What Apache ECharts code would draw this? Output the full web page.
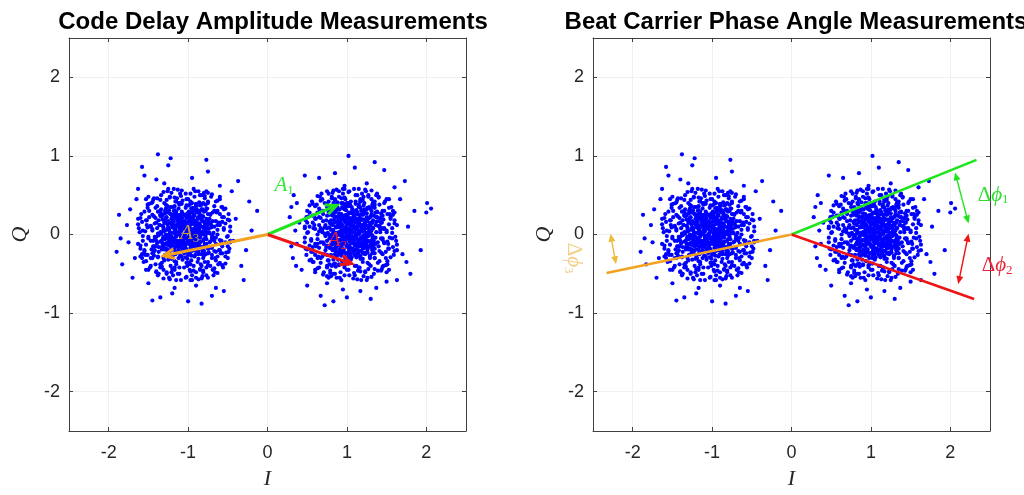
<!DOCTYPE html>
<html>
<head>
<meta charset="utf-8">
<script src="https://cdn.jsdelivr.net/npm/echarts@6/dist/echarts.min.js"></script>
<style>
  html, body { margin: 0; padding: 0; background: #ffffff; }
  #chart { width: 1024px; height: 495px; }
</style>
</head>
<body>
<div id="chart"></div>
<script>
// ---- panel text ----
const panelTitles = ['Code Delay Amplitude Measurements', 'Beat Carrier Phase Angle Measurements'];
const axisMin = -2.5;
const axisMax = 2.5;

// ---- received samples (I, Q) : cluster around -1 ----
const leftCloudI = [
  -1.02,-1.17,-0.85,-1.12,-0.91,-1.27,-0.99,-1.21,-0.80,-1.05,
  -1.09,-0.94,-1.24,-0.88,-1.14,-0.82,-1.31,-0.97,-1.18,-1.03,
  -0.90,-1.29,-0.95,-1.08,-0.78,-1.16,-0.86,-1.23,-1.00,-1.11,
  -0.92,-1.26,-1.04,-0.83,-1.20,-0.96,-1.33,-0.89,-1.07,-1.15,
  -0.81,-1.10,-0.98,-1.25,-0.87,-1.19,-1.01,-1.30,-0.93,-1.13,
  -0.84,-1.06,-0.79,-1.22,-1.02,-1.28,-0.91,-1.17,-0.97,-1.34,
  -0.88,-1.05,-1.12,-0.85,-1.21,-0.99,-1.26,-0.94,-1.09,-0.80,
  -1.18,-1.03,-0.89,-1.31,-0.96,-1.14,-0.82,-1.24,-1.00,-1.07,
  -0.92,-1.29,-0.86,-1.16,-1.04,-1.11,-0.77,-1.23,-0.95,-1.19,
  -1.01,-1.32,-0.90,-1.13,-0.83,-1.08,-0.93,-1.27,-0.98,-1.20,
  -0.87,-1.06,-1.15,-0.79,-1.25,-1.02,-1.22,-0.91,-1.10,-0.84,
  -1.17,-0.97,-1.30,-0.88,-1.11,-1.05,-0.81,-1.24,-0.94,-1.14,
  -0.99,-1.28,-0.89,-1.19,-1.03,-1.33,-0.85,-1.09,-0.92,-1.21,
  -0.96,-1.16,-0.78,-1.26,-1.00,-1.12,-0.86,-1.07,-0.93,-1.31,
  -0.70,-1.45,-0.97,-1.17,-0.60,-1.38,-0.83,-1.53,-0.75,-1.10,
  -0.55,-1.43,-0.90,-1.30,-0.64,-1.57,-0.77,-1.23,-0.67,-1.49,
  -1.03,-0.50,-1.35,-0.85,-1.61,-0.72,-1.15,-0.58,-1.41,-0.93,
  -1.47,-0.79,-1.55,-0.66,-1.27,-0.99,-0.47,-1.39,-0.87,-1.52,
  -0.74,-1.20,-0.61,-1.33,-0.96,-1.59,-0.69,-1.11,-0.53,-1.44,
  -0.81,-1.31,-0.63,-1.50,-0.91,-1.36,-0.57,-1.25,-0.76,-1.63,
  -1.02,-0.68,-1.46,-0.84,-1.18,-0.51,-1.40,-0.89,-1.54,-0.65,
  -1.13,-0.78,-1.58,-0.71,-1.29,-0.95,-0.59,-1.42,-0.86,-1.48,
  -0.48,-1.22,-0.73,-1.34,-0.62,-1.60,-0.98,-0.80,-1.51,-0.67,
  -1.16,-0.56,-1.37,-0.88,-1.56,-0.75,-1.09,-0.60,-1.32,-0.50,
  -1.44,-0.92,-1.24,-0.69,-1.62,-0.82,-1.39,-0.65,-1.19,-0.55,
  -1.49,-1.01,-0.77,-1.57,-0.72,-1.28,-0.58,-1.41,-0.94,-1.53,
  -0.63,-1.14,-0.81,-1.45,-0.49,-1.35,-0.90,-1.63,-0.70,-1.21,
  -0.60,-1.31,-0.99,-1.50,-0.74,-1.58,-0.85,-1.12,-0.53,-1.38,
  -0.66,-1.26,-0.95,-1.54,-0.78,-1.42,-0.57,-1.17,-0.47,-1.47,
  -0.40,-1.75,-0.95,-1.20,-0.33,-1.65,-0.65,-1.50,-0.75,-1.87,
  -0.20,-1.40,-0.45,-1.83,-1.00,-1.25,-0.27,-1.70,-0.55,-1.85,
  -0.83,-1.55,-0.13,-1.35,-0.37,-1.77,-0.90,-1.63,-0.60,-1.90,
  -0.30,-1.45,-0.43,-1.30,-0.70,-1.73,-0.23,-1.17,-1.67,-0.77,
  -1.38,-1.22,-1.58
];
const leftCloudQ = [
  0.05,0.08,-0.04,-0.15,0.17,-0.03,-0.25,0.20,0.10,-0.02,
  0.13,-0.11,-0.14,0.03,0.24,-0.16,0.06,0.19,-0.06,-0.18,
  -0.21,0.15,0.07,-0.09,-0.02,-0.23,0.14,0.02,0.26,0.00,
  -0.05,-0.19,0.11,0.20,0.11,-0.14,-0.08,-0.13,0.21,-0.01,
  0.04,-0.27,-0.07,0.09,-0.25,0.25,0.15,-0.12,0.00,0.17,
  -0.09,-0.13,0.16,-0.20,-0.22,0.21,0.09,-0.10,0.28,0.01,
  -0.17,0.07,-0.20,0.12,-0.04,-0.10,0.13,0.22,0.04,-0.06,
  0.16,-0.29,0.05,-0.16,0.13,-0.08,-0.20,0.05,-0.04,0.27,
  0.18,-0.06,-0.12,0.03,-0.16,0.19,0.08,-0.24,-0.19,0.09,
  0.23,0.11,-0.01,-0.16,0.24,-0.06,0.14,-0.11,0.02,-0.27,
  0.20,0.16,0.12,-0.12,-0.01,0.10,0.26,-0.26,-0.11,0.03,
  -0.19,-0.02,0.18,0.11,0.08,-0.24,-0.23,-0.09,0.04,0.21,
  0.17,-0.02,-0.08,-0.14,0.24,-0.19,-0.01,-0.03,-0.16,0.15,
  -0.27,0.27,0.01,0.07,-0.08,0.11,0.07,-0.19,0.25,-0.03,
  0.10,0.05,0.42,-0.45,-0.20,-0.28,0.38,0.18,-0.35,0.52,
  0.06,-0.15,-0.48,0.40,0.28,-0.08,-0.42,0.47,-0.08,0.30,
  -0.55,-0.15,-0.42,0.50,0.03,0.25,-0.38,0.35,0.21,-0.40,
  -0.30,0.46,-0.22,-0.30,-0.50,0.37,0.10,0.36,-0.57,0.12,
  -0.18,0.35,0.15,-0.36,-0.33,0.26,-0.45,-0.42,-0.28,0.44,
  -0.30,-0.56,0.00,-0.05,0.55,0.12,0.22,-0.32,0.33,-0.12,
  0.45,-0.52,0.40,-0.38,0.58,-0.03,-0.48,0.32,-0.26,0.42,
  -0.50,-0.25,0.16,0.48,0.30,-0.52,-0.12,-0.03,0.41,-0.42,
  0.18,-0.40,0.02,0.50,-0.38,-0.18,-0.45,0.53,0.38,0.30,
  0.42,-0.42,-0.22,-0.35,-0.35,0.40,-0.58,0.26,0.24,-0.30,
  -0.08,0.48,-0.55,-0.03,0.08,-0.53,0.46,-0.22,-0.30,0.32,
  0.22,-0.40,0.55,-0.02,-0.40,0.38,-0.08,-0.38,0.34,-0.45,
  0.12,0.46,-0.46,-0.24,-0.22,0.30,0.39,0.20,-0.26,-0.48,
  0.45,-0.30,-0.36,0.48,0.16,-0.30,-0.44,0.40,0.14,-0.52,
  -0.48,0.55,-0.58,0.04,0.38,-0.20,-0.24,-0.34,-0.08,0.10,
  0.20,-0.10,0.72,-0.75,-0.40,0.45,-0.68,-0.62,0.80,0.25,
  0.05,0.70,0.55,-0.38,-0.85,0.88,-0.20,-0.55,-0.72,-0.05,
  -0.88,0.75,0.30,-0.80,0.68,0.12,-0.65,0.58,0.62,-0.22,
  -0.58,-0.84,-0.08,0.65,-0.78,0.32,0.42,-0.68,-0.30,0.95,
  1.02,0.97,0.86
];
// dense centre of the -1 cluster
const leftCoreI = [
  -1.03,-1.14,-0.90,-1.23,-0.98,-1.09,-0.81,-1.32,-0.94,-1.18,
  -0.86,-1.27,-1.05,-0.74,-1.38,-1.00,-1.11,-0.91,-1.21,-0.78,
  -1.30,-0.96,-1.06,-0.84,-1.25,-1.02,-1.16,-0.70,-1.42,-0.93,
  -1.13,-0.88,-1.19,-0.99,-1.35,-0.77,-1.08,-0.83,-1.24,-0.95,
  -1.04,-1.17,-0.79,-1.29,-0.92,-1.12,-0.72,-1.41,-0.97,-1.22,
  -0.89,-1.10,-0.82,-1.33,-1.01,-1.15,-0.75,-1.26,-0.87,-1.07,
  -1.20,-0.96,-1.31,-0.85,-1.09,-0.76,-1.37,-0.94,-1.14,-0.68,
  -1.06,-0.91,-1.23,-0.99,-1.28,-0.80,-1.17,-1.03,-0.86,-1.39,
  -1.11,-0.93,-1.34,-0.82,-1.08,-0.73,-1.21,-0.98,-1.25,-0.90,
  -1.15,-0.78,-1.13,-1.01,-1.40,-0.87,-1.30,-0.95,-1.19,-0.69,
  -1.05,-1.24,-0.84,-1.16,-0.97,-1.35,-0.89,-1.07,-0.77,-1.29,
  -1.00,-1.18,-0.80,-1.12,-0.92,-1.27,-1.02,-1.32,-0.71,-1.09,
  -0.94,-1.21,-0.86,-1.06,-0.81,-1.38,-0.96,-1.14,-0.75,-1.25,
  -1.10,-0.90,-1.28,-1.04,-1.17,-0.79,-1.22,-0.98,-0.85,-1.34,
  -1.02,-1.13,-0.88,-1.31,-0.93,-1.08,-0.76,-1.20,-0.99,-1.40,
  -1.16,-0.83,-1.11,-0.95,-1.26,-0.74,-1.19,-1.01,-1.36,-0.87,
  -1.07,-0.89,-1.29,-0.97,-1.14,-0.81,-1.24,-0.92,-1.12,-0.72,
  -1.03,-1.20,-0.85,-1.32,-0.96,-1.09,-0.78,-1.18,-0.90,-1.27,
  -0.99,-1.23,-0.94,-1.35,-1.04,-0.84,-1.15,-0.91,-1.10,-0.80,
  -1.21,-1.00,-1.28,-0.86,-1.13,-0.70,-1.33,-1.05,-0.88,-1.17,
  -0.97,-1.25,-0.83,-1.09,-0.93,-1.31,-0.77,-1.12,-1.02,-1.21,
  -0.92,-1.37,-0.98,-1.15,-0.82,-1.07,-0.89,-1.26,-0.95,-1.11
];
const leftCoreQ = [
  0.02,0.11,0.16,-0.02,0.24,-0.16,0.00,0.19,-0.09,0.30,
  0.27,-0.13,0.14,0.07,0.01,-0.26,0.38,-0.20,0.25,-0.14,
  -0.19,0.33,-0.07,0.10,0.08,0.21,-0.25,-0.05,0.14,0.06,
  0.03,-0.04,0.18,-0.12,-0.09,0.20,0.29,-0.25,-0.06,0.40,
  -0.02,0.22,0.14,0.05,-0.15,-0.21,0.26,-0.15,0.17,0.35,
  0.03,0.16,0.32,0.26,-0.31,-0.03,-0.18,-0.24,0.22,0.43,
  0.09,-0.06,-0.04,-0.10,0.24,0.11,0.18,0.29,-0.12,0.02,
  0.08,0.12,0.27,-0.03,-0.18,-0.21,0.04,0.34,0.00,0.08,
  -0.08,-0.14,0.32,0.17,-0.28,-0.10,0.13,0.09,-0.11,0.36,
  0.20,0.05,0.00,0.27,-0.03,-0.22,0.15,0.02,-0.19,0.17,
  -0.10,0.31,0.24,0.07,-0.17,0.03,0.15,-0.01,-0.06,-0.26,
  0.11,-0.05,0.29,0.33,-0.28,0.22,0.04,-0.12,0.09,0.19,
  -0.03,0.02,0.07,-0.20,0.23,0.29,0.20,-0.23,0.02,0.14,
  0.05,-0.09,0.00,0.17,0.36,-0.16,-0.15,-0.24,0.30,0.23,
  -0.05,0.13,0.21,0.09,-0.01,0.39,0.18,-0.09,0.08,-0.08,
  -0.15,0.01,0.25,0.14,-0.21,-0.23,0.16,-0.09,0.12,-0.13,
  0.10,0.28,0.19,-0.07,0.02,-0.08,0.06,0.24,-0.30,0.14,
  -0.13,0.23,-0.03,-0.06,0.15,-0.04,0.30,0.11,0.03,-0.01,
  0.29,-0.08,0.18,0.25,0.01,-0.16,0.29,-0.06,-0.14,0.08,
  -0.03,0.22,0.33,0.14,-0.10,-0.01,-0.16,0.25,-0.19,0.01,
  0.04,0.17,0.19,0.08,-0.11,0.04,-0.12,0.21,-0.19,-0.13,
  0.31,-0.01,0.01,0.26,0.03,-0.05,0.09,0.28,-0.21,0.12
];
// middle ring of the -1 cluster
const leftRingI = [
  -1.15,-1.10,-1.47,-0.60,-0.85,-0.77,-1.43,-1.23,-0.70,-1.57,
  -1.11,-0.90,-0.57,-1.45,-1.33,-0.97,-0.63,-1.52,-0.97,-1.35,
  -0.50,-0.90,-0.63,-1.55,-1.08,-1.30,-0.67,-1.40,-1.26,-0.65,
  -0.75,-1.51,-0.83,-0.75,-0.55,-1.42,-1.15,-1.41,-0.48,-1.17,
  -0.87,-1.40,-1.20,-0.69,-0.72,-1.31,-0.60,-0.63,-0.77,-1.49,
  -0.75,-0.49,-1.05,-1.00,-1.60,-1.17,-1.27,-0.73,-1.38,-0.93,
  -1.50,-0.53,-1.45,-0.67,-1.63,-1.02,-0.57,-1.37,-0.79,-1.47,
  -0.55,-0.80,-1.21,-1.53,-1.35,-0.53,-0.93,-1.02,-1.46,-0.63,
  -1.23,-0.65,-1.07,-1.55,-0.67,-0.87,-0.60,-1.58,-1.43,-1.35,
  -1.47,-0.63,-0.83,-0.70,-0.70,-1.45,-0.47,-1.31,-1.29,-0.75,
  -0.97,-1.53,-0.50,-1.02,-1.13,-0.52,-1.51,-0.83,-0.75,-1.37,
  -1.27,-0.65,-1.60,-1.03,-0.65,-1.43,-0.97,-0.67,-1.39,-0.60,
  -1.17,-1.51,-0.59,-0.81,-0.83,-1.35,-1.44,-1.25,-0.79,-0.57,
  -1.50,-0.75,-0.69,-1.53,-1.21,-0.75,-0.61,-1.45,-1.19,-0.53,
  -0.57,-1.60,-0.47,-1.09,-1.43,-0.85,-0.81,-0.71,-0.97,-1.15
];
const leftRingQ = [
  -0.35,0.40,-0.08,0.12,-0.45,0.33,-0.22,0.48,-0.30,0.05,
  -0.50,0.38,-0.15,0.25,-0.41,0.52,-0.28,0.18,-0.38,0.44,
  -0.02,-0.55,0.30,-0.20,0.56,-0.33,0.10,-0.47,0.36,-0.12,
  0.42,-0.26,0.50,-0.39,0.22,-0.06,-0.58,0.34,-0.18,0.47,
  -0.31,0.15,-0.44,0.28,-0.09,0.54,-0.36,0.06,-0.52,0.39,
  -0.24,0.26,-0.42,0.45,-0.14,0.31,-0.48,0.20,-0.29,0.58,
  -0.03,-0.37,0.41,-0.21,0.13,-0.54,0.35,-0.16,0.49,-0.40,
  0.08,-0.27,0.53,-0.34,0.24,-0.10,-0.46,0.37,-0.19,0.43,
  -0.57,0.17,-0.32,0.29,-0.43,0.55,-0.07,-0.25,0.46,-0.38,
  0.11,-0.49,0.32,-0.17,0.51,-0.30,0.04,-0.45,0.27,-0.55,
  0.39,-0.13,0.19,-0.36,0.57,-0.23,0.34,-0.40,0.14,-0.50,
  0.44,-0.04,-0.28,0.52,-0.33,0.23,-0.47,0.36,-0.11,0.48,
  -0.42,0.09,-0.24,0.40,-0.56,0.30,-0.15,0.58,-0.35,0.16,
  -0.45,0.26,-0.06,0.45,-0.31,0.53,-0.20,0.07,-0.52,0.33,
  -0.39,0.21,-0.10,0.49,-0.27,0.37,-0.48,0.12,-0.58,0.42
];

// ---- received samples (I, Q) : cluster around +1 ----
const rightCloudI = [
  1.10,1.13,1.01,0.90,1.22,1.02,0.80,1.25,1.15,1.03,
  1.18,0.94,0.91,1.08,1.29,0.89,1.11,1.24,0.99,0.87,
  0.84,1.20,1.12,0.96,1.03,0.82,1.19,1.07,1.31,1.05,
  1.00,0.86,1.16,1.25,1.16,0.91,0.97,0.92,1.26,1.04,
  1.09,0.78,0.98,1.14,0.80,1.30,1.20,0.93,1.05,1.22,
  0.96,0.92,1.21,0.85,0.83,1.26,1.14,0.95,1.33,1.06,
  0.88,1.12,0.85,1.17,1.01,0.95,1.18,1.27,1.09,0.99,
  1.21,0.76,1.10,0.89,1.18,0.97,0.85,1.10,1.01,1.32,
  1.23,0.99,0.93,1.08,0.89,1.24,1.13,0.81,0.86,1.14,
  1.28,1.16,1.04,0.89,1.29,0.99,1.19,0.94,1.07,0.78,
  1.25,1.21,1.17,0.93,1.04,1.15,1.31,0.79,0.94,1.08,
  0.86,1.03,1.23,1.16,1.13,0.81,0.82,0.96,1.09,1.26,
  1.22,1.03,0.97,0.91,1.29,0.86,1.04,1.02,0.89,1.20,
  0.78,1.32,1.06,1.12,0.97,1.16,1.12,0.86,1.30,1.02,
  1.15,1.10,1.47,0.60,0.85,0.77,1.43,1.23,0.70,1.57,
  1.11,0.90,0.57,1.45,1.33,0.97,0.63,1.52,0.97,1.35,
  0.50,0.90,0.63,1.55,1.08,1.30,0.67,1.40,1.26,0.65,
  0.75,1.51,0.83,0.75,0.55,1.42,1.15,1.41,0.48,1.17,
  0.87,1.40,1.20,0.69,0.72,1.31,0.60,0.63,0.77,1.49,
  0.75,0.49,1.05,1.00,1.60,1.17,1.27,0.73,1.38,0.93,
  1.50,0.53,1.45,0.67,1.63,1.02,0.57,1.37,0.79,1.47,
  0.55,0.80,1.21,1.53,1.35,0.53,0.93,1.02,1.46,0.63,
  1.23,0.65,1.07,1.55,0.67,0.87,0.60,1.58,1.43,1.35,
  1.47,0.63,0.83,0.70,0.70,1.45,0.47,1.31,1.29,0.75,
  0.97,1.53,0.50,1.02,1.13,0.52,1.51,0.83,0.75,1.37,
  1.27,0.65,1.60,1.03,0.65,1.43,0.97,0.67,1.39,0.60,
  1.17,1.51,0.59,0.81,0.83,1.35,1.44,1.25,0.79,0.57,
  1.50,0.75,0.69,1.53,1.21,0.75,0.61,1.45,1.19,0.53,
  0.57,1.60,0.47,1.09,1.43,0.85,0.81,0.71,0.97,1.15,
  1.25,0.95,1.77,0.30,0.65,1.50,0.37,0.43,1.85,1.30,
  1.10,1.75,1.60,0.67,0.35,1.93,0.85,0.50,0.33,1.00,
  0.28,1.80,1.35,0.32,1.73,1.17,0.40,1.63,1.67,0.83,
  0.47,0.36,0.97,1.70,0.30,1.37,1.47,0.37,0.75,2.00,
  2.06,2.01,1.02,0.72
];
const rightCloudQ = [
  0.03,-0.12,0.20,-0.07,0.14,-0.22,0.06,-0.16,0.25,0.00,
  -0.04,0.11,-0.19,0.17,-0.09,0.23,-0.26,0.08,-0.13,0.02,
  0.15,-0.24,0.10,-0.03,0.27,-0.11,0.19,-0.18,0.05,-0.06,
  0.13,-0.21,0.01,0.22,-0.15,0.09,-0.28,0.16,-0.02,-0.10,
  0.24,-0.05,0.07,-0.20,0.18,-0.14,0.04,-0.25,0.12,-0.08,
  0.21,-0.01,0.26,-0.17,0.03,-0.23,0.14,-0.12,0.08,-0.29,
  0.17,0.00,-0.07,0.20,-0.16,0.06,-0.21,0.11,-0.04,0.25,
  -0.13,0.02,0.16,-0.26,0.09,-0.09,0.23,-0.19,0.05,-0.02,
  0.13,-0.24,0.19,-0.11,0.01,-0.06,0.28,-0.18,0.10,-0.14,
  0.04,-0.27,0.15,-0.08,0.22,-0.03,0.12,-0.22,0.07,-0.15,
  0.18,-0.01,-0.10,0.26,-0.20,0.03,-0.17,0.14,-0.05,0.21,
  -0.12,0.08,-0.25,0.17,-0.06,0.00,0.24,-0.19,0.11,-0.09,
  0.06,-0.23,0.16,-0.14,0.02,-0.28,0.20,-0.04,0.13,-0.16,
  0.09,-0.11,0.27,-0.21,0.05,-0.07,0.19,-0.02,0.12,-0.26,
  0.35,-0.40,0.08,-0.12,0.45,-0.33,0.22,-0.48,0.30,-0.05,
  0.50,-0.38,0.15,-0.25,0.41,-0.52,0.28,-0.18,0.38,-0.44,
  0.02,0.55,-0.30,0.20,-0.56,0.33,-0.10,0.47,-0.36,0.12,
  -0.42,0.26,-0.50,0.39,-0.22,0.06,0.58,-0.34,0.18,-0.47,
  0.31,-0.15,0.44,-0.28,0.09,-0.54,0.36,-0.06,0.52,-0.39,
  0.24,-0.26,0.42,-0.45,0.14,-0.31,0.48,-0.20,0.29,-0.58,
  0.03,0.37,-0.41,0.21,-0.13,0.54,-0.35,0.16,-0.49,0.40,
  -0.08,0.27,-0.53,0.34,-0.24,0.10,0.46,-0.37,0.19,-0.43,
  0.57,-0.17,0.32,-0.29,0.43,-0.55,0.07,0.25,-0.46,0.38,
  -0.11,0.49,-0.32,0.17,-0.51,0.30,-0.04,0.45,-0.27,0.55,
  -0.39,0.13,-0.19,0.36,-0.57,0.23,-0.34,0.40,-0.14,0.50,
  -0.44,0.04,0.28,-0.52,0.33,-0.23,0.47,-0.36,0.11,-0.48,
  0.42,-0.09,0.24,-0.40,0.56,-0.30,0.15,-0.58,0.35,-0.16,
  0.45,-0.26,0.06,-0.45,0.31,-0.53,0.20,-0.07,0.52,-0.33,
  0.39,-0.21,0.10,-0.49,0.27,-0.37,0.48,-0.12,0.58,-0.42,
  0.65,-0.70,0.10,-0.15,0.72,-0.60,0.40,-0.45,0.30,-0.82,
  0.85,-0.35,0.60,-0.78,0.05,-0.20,0.78,-0.65,0.50,-0.80,
  0.22,-0.50,0.92,-0.30,0.68,-0.72,0.15,-0.58,0.45,-0.85,
  0.75,-0.40,0.62,-0.25,0.35,-0.68,0.82,-0.12,-0.62,0.28,
  0.33,0.40,1.00,-0.90
];
// dense centre of the +1 cluster
const rightCoreI = [
  1.05,1.14,1.19,1.01,1.27,0.87,1.03,1.22,0.94,1.33,
  1.30,0.90,1.17,1.10,1.04,0.77,1.41,0.83,1.28,0.89,
  0.84,1.36,0.96,1.13,1.11,1.24,0.78,0.98,1.17,1.09,
  1.06,0.99,1.21,0.91,0.94,1.23,1.32,0.78,0.97,1.43,
  1.01,1.25,1.17,1.08,0.88,0.82,1.29,0.88,1.20,1.38,
  1.06,1.19,1.35,1.29,0.72,1.00,0.85,0.79,1.25,1.46,
  1.12,0.97,0.99,0.93,1.27,1.14,1.21,1.32,0.91,1.05,
  1.11,1.15,1.30,1.00,0.85,0.82,1.07,1.37,1.03,1.11,
  0.95,0.89,1.35,1.20,0.75,0.93,1.16,1.12,0.92,1.39,
  1.23,1.08,1.03,1.30,1.00,0.81,1.18,1.05,0.84,1.20,
  0.93,1.34,1.27,1.10,0.86,1.06,1.18,1.02,0.97,0.77,
  1.14,0.98,1.32,1.36,0.75,1.25,1.07,0.91,1.12,1.22,
  1.00,1.05,1.10,0.83,1.26,1.32,1.23,0.80,1.05,1.17,
  1.08,0.94,1.03,1.20,1.39,0.87,0.88,0.79,1.33,1.26,
  0.98,1.16,1.24,1.12,1.02,1.42,1.21,0.94,1.11,0.95,
  0.88,1.04,1.28,1.17,0.82,0.80,1.19,0.94,1.15,0.90,
  1.13,1.31,1.22,0.96,1.05,0.95,1.09,1.27,0.73,1.17,
  0.90,1.26,1.00,0.97,1.18,0.99,1.33,1.14,1.06,1.02,
  1.32,0.95,1.21,1.28,1.04,0.87,1.32,0.97,0.89,1.11,
  1.00,1.25,1.36,1.17,0.93,1.02,0.87,1.28,0.84,1.04,
  1.07,1.20,1.22,1.11,0.92,1.07,0.91,1.24,0.84,0.90,
  1.34,1.02,1.04,1.29,1.06,0.98,1.12,1.31,0.82,1.15
];
const rightCoreQ = [
  0.03,0.14,-0.10,0.23,-0.02,0.09,-0.19,0.32,-0.06,0.18,
  -0.14,0.27,0.05,-0.26,0.38,0.00,0.11,-0.09,0.21,-0.22,
  0.30,-0.04,0.06,-0.16,0.25,0.02,0.16,-0.30,0.42,-0.07,
  0.13,-0.12,0.19,-0.01,0.35,-0.23,0.08,-0.17,0.24,-0.05,
  0.04,0.17,-0.21,0.29,-0.08,0.12,-0.28,0.41,-0.03,0.22,
  -0.11,0.10,-0.18,0.33,0.01,0.15,-0.25,0.26,-0.13,0.07,
  0.20,-0.04,0.31,-0.15,0.09,-0.24,0.37,-0.06,0.14,-0.32,
  0.06,-0.09,0.23,-0.01,0.28,-0.20,0.17,0.03,-0.14,0.39,
  0.11,-0.07,0.34,-0.18,0.08,-0.27,0.21,-0.02,0.25,-0.10,
  0.15,-0.22,0.13,0.01,0.40,-0.13,0.30,-0.05,0.19,-0.31,
  0.05,0.24,-0.16,0.16,-0.03,0.35,-0.11,0.07,-0.23,0.29,
  0.00,0.18,-0.20,0.12,-0.08,0.27,0.02,0.32,-0.29,0.09,
  -0.06,0.21,-0.14,0.06,-0.19,0.38,-0.04,0.14,-0.25,0.25,
  0.10,-0.10,0.28,0.04,0.17,-0.21,0.22,-0.02,-0.15,0.34,
  0.02,0.13,-0.12,0.31,-0.07,0.08,-0.24,0.20,-0.01,0.40,
  0.16,-0.17,0.11,-0.05,0.26,-0.26,0.19,0.01,0.36,-0.13,
  0.07,-0.11,0.29,-0.03,0.14,-0.19,0.24,-0.08,0.12,-0.28,
  0.03,0.20,-0.15,0.32,-0.04,0.09,-0.22,0.18,-0.10,0.27,
  -0.01,0.23,-0.06,0.35,0.04,-0.16,0.15,-0.09,0.10,-0.20,
  0.21,0.00,0.28,-0.14,0.13,-0.30,0.33,0.05,-0.12,0.17,
  -0.03,0.25,-0.17,0.09,-0.07,0.31,-0.23,0.12,0.02,0.21,
  -0.08,0.37,-0.02,0.15,-0.18,0.07,-0.11,0.26,-0.05,0.11
];
// middle ring of the +1 cluster
const rightRingI = [
  0.70,1.45,0.97,1.17,0.60,1.38,0.83,1.53,0.75,1.10,
  0.55,1.43,0.90,1.30,0.64,1.57,0.77,1.23,0.67,1.49,
  1.03,0.50,1.35,0.85,1.61,0.72,1.15,0.58,1.41,0.93,
  1.47,0.79,1.55,0.66,1.27,0.99,0.47,1.39,0.87,1.52,
  0.74,1.20,0.61,1.33,0.96,1.59,0.69,1.11,0.53,1.44,
  0.81,1.31,0.63,1.50,0.91,1.36,0.57,1.25,0.76,1.63,
  1.02,0.68,1.46,0.84,1.18,0.51,1.40,0.89,1.54,0.65,
  1.13,0.78,1.58,0.71,1.29,0.95,0.59,1.42,0.86,1.48,
  0.48,1.22,0.73,1.34,0.62,1.60,0.98,0.80,1.51,0.67,
  1.16,0.56,1.37,0.88,1.56,0.75,1.09,0.60,1.32,0.50,
  1.44,0.92,1.24,0.69,1.62,0.82,1.39,0.65,1.19,0.55,
  1.49,1.01,0.77,1.57,0.72,1.28,0.58,1.41,0.94,1.53,
  0.63,1.14,0.81,1.45,0.49,1.35,0.90,1.63,0.70,1.21,
  0.60,1.31,0.99,1.50,0.74,1.58,0.85,1.12,0.53,1.38,
  0.66,1.26,0.95,1.54,0.78,1.42,0.57,1.17,0.47,1.47
];
const rightRingQ = [
  -0.10,-0.05,-0.42,0.45,0.20,0.28,-0.38,-0.18,0.35,-0.52,
  -0.06,0.15,0.48,-0.40,-0.28,0.08,0.42,-0.47,0.08,-0.30,
  0.55,0.15,0.42,-0.50,-0.03,-0.25,0.38,-0.35,-0.21,0.40,
  0.30,-0.46,0.22,0.30,0.50,-0.37,-0.10,-0.36,0.57,-0.12,
  0.18,-0.35,-0.15,0.36,0.33,-0.26,0.45,0.42,0.28,-0.44,
  0.30,0.56,0.00,0.05,-0.55,-0.12,-0.22,0.32,-0.33,0.12,
  -0.45,0.52,-0.40,0.38,-0.58,0.03,0.48,-0.32,0.26,-0.42,
  0.50,0.25,-0.16,-0.48,-0.30,0.52,0.12,0.03,-0.41,0.42,
  -0.18,0.40,-0.02,-0.50,0.38,0.18,0.45,-0.53,-0.38,-0.30,
  -0.42,0.42,0.22,0.35,0.35,-0.40,0.58,-0.26,-0.24,0.30,
  0.08,-0.48,0.55,0.03,-0.08,0.53,-0.46,0.22,0.30,-0.32,
  -0.22,0.40,-0.55,0.02,0.40,-0.38,0.08,0.38,-0.34,0.45,
  -0.12,-0.46,0.46,0.24,0.22,-0.30,-0.39,-0.20,0.26,0.48,
  -0.45,0.30,0.36,-0.48,-0.16,0.30,0.44,-0.40,-0.14,0.52,
  0.48,-0.55,0.58,-0.04,-0.38,0.20,0.24,0.34,0.08,-0.10
];

// ---- amplitude vectors A1..A3 (from origin) ----
const ampSubscripts = ['1', '2', '3'];
const ampTipI = [0.87, 1.06, -1.31];
const ampTipQ = [0.37, -0.37, -0.27];
const ampLabelI = [0.21, 0.88, -0.98];
const ampLabelQ = [0.62, -0.08, 0.01];

// ---- phase lines and phase-difference markers ----
const phaseEndI = [2.33, 2.30, -2.33];
const phaseEndQ = [0.95, -0.82, -0.49];
const deltaFromI = [2.06, 2.23, -2.28];
const deltaFromQ = [0.79, 0.01, 0.01];
const deltaToI = [2.23, 2.10, -2.21];
const deltaToQ = [0.14, -0.63, -0.38];
const deltaLabelI = [2.54, 2.59, -2.75];
const deltaLabelQ = [0.50, -0.40, -0.30];

// ---- styling ----
const vecColors = ['#1fe51f', '#ee1414', '#f3a21f'];
const textColors = ['#3ae83a', '#e6222c', '#c9a02c'];
const deltaTextColors = ['#2fdc2f', '#ea2436', '#f3cf86'];
const SANS = 'Liberation Sans, Arial, Helvetica, sans-serif';
const SERIF = 'Liberation Serif, Times New Roman, serif';
const INK = '#262626';

function cloud(iv, qv) {
  const n = Math.min(iv.length, qv.length);
  const out = [];
  for (let k = 0; k < n; k++) out.push([iv[k], qv[k]]);
  return out;
}

// arrow drawn in pixel space from the axis scale; head: 'v' (open quiver head) or 'fill'
function arrowSeries(gridIdx, from, to, opt) {
  return {
    type: 'custom',
    xAxisIndex: gridIdx * 2,
    yAxisIndex: gridIdx * 2,
    clip: false,
    silent: true,
    z: 5,
    data: [[from[0], from[1], to[0], to[1]]],
    encode: { x: [0, 2], y: [1, 3] },
    renderItem: function (params, api) {
      const a = api.coord([api.value(0), api.value(1)]);
      const b = api.coord([api.value(2), api.value(3)]);
      const dx = b[0] - a[0], dy = b[1] - a[1];
      const len = Math.sqrt(dx * dx + dy * dy) || 1;
      const ux = dx / len, uy = dy / len, nx = -uy, ny = ux;
      const children = [];
      const hl = opt.headLen || 0, hw = (opt.headWid || 0) / 2;
      function headPts(tip, sx, sy) {
        const bx = tip[0] - sx * hl, by = tip[1] - sy * hl;
        return [[bx + nx * hw, by + ny * hw], tip, [bx - nx * hw, by - ny * hw]];
      }
      let s = a, e = b;
      if (opt.head === 'fill') {
        if (opt.end) e = [b[0] - ux * hl * 0.8, b[1] - uy * hl * 0.8];
        if (opt.start) s = [a[0] + ux * hl * 0.8, a[1] + uy * hl * 0.8];
      }
      children.push({
        type: 'line',
        shape: { x1: s[0], y1: s[1], x2: e[0], y2: e[1] },
        style: { stroke: opt.color, lineWidth: opt.width, lineCap: 'butt' }
      });
      const heads = [];
      if (opt.end) heads.push(headPts(b, ux, uy));
      if (opt.start) heads.push(headPts(a, -ux, -uy));
      heads.forEach(function (pts) {
        if (opt.head === 'fill') {
          children.push({ type: 'polygon', shape: { points: pts }, style: { fill: opt.color } });
        } else {
          children.push({
            type: 'polyline', shape: { points: pts },
            style: { stroke: opt.color, lineWidth: opt.width, fill: 'none', lineJoin: 'miter' }
          });
        }
      });
      return { type: 'group', children: children };
    }
  };
}

function textSeries(gridIdx, pos, text, color, rotate, opacity) {
  return {
    type: 'scatter',
    xAxisIndex: gridIdx * 2,
    yAxisIndex: gridIdx * 2,
    clip: false,
    silent: true,
    z: 6,
    symbolSize: 0,
    data: [[pos[0], pos[1]]],
    label: {
      show: true,
      position: 'inside',
      rotate: rotate || 0,
      opacity: opacity == null ? 1 : opacity,
      formatter: text,
      rich: {
        v: { fontFamily: SERIF, fontStyle: 'italic', fontSize: 21, color: color },
        d: { fontFamily: SERIF, fontSize: 21, color: color },
        s: { fontFamily: SERIF, fontSize: 13, color: color, padding: [9, 0, 0, 0] }
      }
    }
  };
}

const grids = [
  { left: 69, top: 38, width: 397, height: 399 },
  { left: 593, top: 38, width: 397, height: 399 }
];

const xAxes = [], yAxes = [];
grids.forEach(function (g, gi) {
  const common = {
    type: 'value', gridIndex: gi, min: axisMin, max: axisMax,
    axisLine: { show: true, onZero: false, lineStyle: { color: '#404040', width: 1 } },
    axisTick: { show: true, inside: true, length: 4, lineStyle: { color: '#404040' } }
  };
  xAxes.push(Object.assign({}, common, {
    position: 'bottom',
    name: 'I', nameLocation: 'middle', nameGap: 37,
    nameTextStyle: { fontFamily: SERIF, fontStyle: 'italic', fontSize: 22, color: INK },
    axisLabel: { show: true, margin: 13, fontFamily: SANS, fontSize: 18, color: INK,
                 showMinLabel: false, showMaxLabel: false },
    splitLine: { show: true, lineStyle: { color: '#f0f0f0', width: 1 } }
  }));
  xAxes.push(Object.assign({}, common, {
    position: 'top', axisLabel: { show: false }, splitLine: { show: false }
  }));
  yAxes.push(Object.assign({}, common, {
    position: 'left',
    name: 'Q', nameLocation: 'middle', nameGap: 38,
    nameTextStyle: { fontFamily: SERIF, fontStyle: 'italic', fontSize: 22, color: INK },
    axisLabel: { show: true, margin: 9, fontFamily: SANS, fontSize: 18, color: INK,
                 showMinLabel: false, showMaxLabel: false },
    splitLine: { show: true, lineStyle: { color: '#f0f0f0', width: 1 } }
  }));
  yAxes.push(Object.assign({}, common, {
    position: 'right', axisLabel: { show: false }, splitLine: { show: false }
  }));
});

const cloudSets = [
  cloud(leftCloudI, leftCloudQ), cloud(leftCoreI, leftCoreQ), cloud(leftRingI, leftRingQ),
  cloud(rightCloudI, rightCloudQ), cloud(rightCoreI, rightCoreQ), cloud(rightRingI, rightRingQ)
];
const series = [];
[0, 1].forEach(function (gi) {
  cloudSets.forEach(function (pts) {
    series.push({
      type: 'scatter', xAxisIndex: gi * 2, yAxisIndex: gi * 2,
      symbol: 'circle', symbolSize: 4.2, silent: true, z: 2,
      itemStyle: { color: '#0000ff', opacity: 1 },
      data: pts
    });
  });
});

// amplitude panel: quiver arrows with labels
for (let k = 0; k < 3; k++) {
  series.push(arrowSeries(0, [0, 0], [ampTipI[k], ampTipQ[k]],
    { color: vecColors[k], width: 3, head: 'v', end: true, headLen: 11, headWid: 10 }));
  series.push(textSeries(0, [ampLabelI[k], ampLabelQ[k]],
    '{v|A}{s|' + ampSubscripts[k] + '}', textColors[k]));
}

// phase panel: phase lines, double-headed difference arrows and labels
for (let k = 0; k < 3; k++) {
  series.push(arrowSeries(1, [0, 0], [phaseEndI[k], phaseEndQ[k]],
    { color: vecColors[k], width: 2.5, head: 'none' }));
  series.push(arrowSeries(1, [deltaFromI[k], deltaFromQ[k]], [deltaToI[k], deltaToQ[k]],
    { color: k === 2 ? '#efbb3c' : vecColors[k], width: 1.4, head: 'fill', start: true, end: true, headLen: 8, headWid: 7 }));
  series.push(textSeries(1, [deltaLabelI[k], deltaLabelQ[k]],
    '{d|Δ}{v|ϕ}{s|' + ampSubscripts[k] + '}', deltaTextColors[k], k === 2 ? -90 : 0));
}

const chart = echarts.init(document.getElementById('chart'), null, { renderer: 'canvas' });
chart.setOption({
  animation: false,
  backgroundColor: '#ffffff',
  title: panelTitles.map(function (t, i) {
    return {
      text: t, left: i === 0 ? 268 : 791, top: 5, textAlign: 'center',
      textStyle: { fontFamily: SANS, fontWeight: 'bold', fontSize: 24, color: '#000000' }
    };
  }),
  grid: grids,
  xAxis: xAxes,
  yAxis: yAxes,
  series: series
});
</script>
</body>
</html>
